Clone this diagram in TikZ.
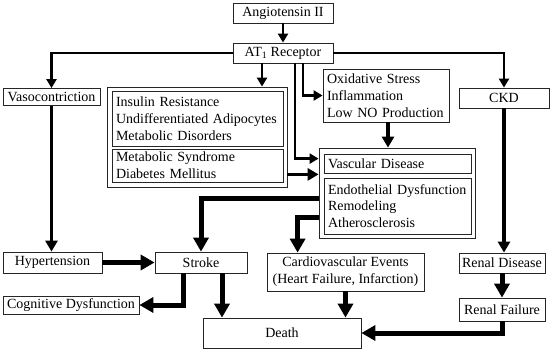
\documentclass[tikz,border=0pt]{standalone}
\usepackage{fontspec}
\setmainfont{Liberation Serif}
\newfontfamily\diagfont{Liberation Serif}
\usetikzlibrary{arrows.meta, calc}

\begin{document}
\begin{tikzpicture}[x=1pt, y=-1pt,
  box/.style={draw=black!85, line width=0.8pt, fill=white, inner sep=0pt,
              font=\diagfont\fontsize{14}{16.8}\selectfont, align=center},
  listbox/.style={box, align=left, inner xsep=4pt},
  frame/.style={draw=black!85, line width=0.8pt, fill=white},
  wh/.style 2 args={minimum width=#1pt, minimum height=#2pt},
  thinarrow/.style={line width=2.3pt, -{Triangle[length=9pt, width=10pt]}},
  midarrow/.style={line width=3.6pt, -{Triangle[length=11pt, width=12pt]}},
  thickarrow/.style={line width=5pt, -{Triangle[length=14pt, width=15pt]}}
]
  \useasboundingbox (0,0) rectangle (552,350);

  \node[box, wh={100}{20}] (angio) at (283,13)   {Angiotensin II};
  \node[box, wh={100}{20}] (at1)   at (283,53)   {AT\textsubscript{1} Receptor};
  \node[box, wh={97}{17}]  (vaso)  at (51.5,97)  {Vasocontriction};
  \node[box, wh={90}{20}]  (ckd)   at (504,98)   {CKD};

  \node[frame, wh={180}{100}] (metab) at (197,137) {};
  \node[listbox, wh={171}{55}, text width=163pt] (ins) at (197.5,118.5)
    {Insulin Resistance\\Undifferentiated Adipocytes\\Metabolic Disorders};
  \node[listbox, wh={171}{33}, text width=163pt] (msyn) at (197.5,165.5)
    {Metabolic Syndrome\\Diabetes Mellitus};

  \node[listbox, wh={126}{53}, text width=118pt, inner xsep=4pt] (oxid) at (386,95.5)
    {Oxidative Stress\\Inflammation\\Low NO Production};

  \node[frame, wh={156}{90}] (vasc) at (397,193) {};
  \node[listbox, wh={147}{19}, text width=139pt] (vasdis) at (397.5,163.5)
    {Vascular Disease};
  \node[listbox, wh={147}{56}, text width=139pt] (endo) at (397.5,206)
    {Endothelial Dysfunction\\Remodeling\\Atherosclerosis};

  \node[box, wh={99}{21}]  (hyper)  at (52.5,262.5) {Hypertension};
  \node[box, wh={92}{21}]  (stroke) at (201,262.5)  {Stroke};
  \node[box, wh={157}{38}] (cardio) at (345.5,272)
    {Cardiovascular Events\\(Heart Failure, Infarction)};
  \node[box, wh={86}{20}]  (renald) at (502,263)    {Renal Disease};
  \node[box, wh={136}{18}] (cog)    at (71,305)     {Cognitive Dysfunction};
  \node[box, wh={158}{30}] (death)  at (282,333)    {Death};
  \node[box, wh={86}{23}]  (renalf) at (502,309.5)  {Renal Failure};

  \draw[thinarrow] (angio) -- (at1);
  \draw[thinarrow] (at1.west) -| (vaso.north);
  \draw[thinarrow] (at1.east) -| (ckd.north);
  \draw[thinarrow] ([xshift=-21pt]at1.south) -- ([xshift=-21pt]at1.south |- metab.north);
  \draw[thinarrow] ([xshift=20pt]at1.south) |- (oxid.west);
  \draw[thinarrow] ([xshift=12pt]at1.south) |- ([yshift=-11pt]vasc.north west);

  \draw[midarrow] ([yshift=13pt]metab.south east) -- ([yshift=13pt]metab.south east -| vasc.west);
  \draw[midarrow] ([xshift=2pt]oxid.south) -- ([xshift=2pt]oxid.south |- vasc.north);
  \draw[midarrow] (vaso.south) -- (vaso.south |- hyper.north);
  \draw[midarrow] (ckd.south) -- (ckd.south |- renald.north);

  \draw[thickarrow] (hyper) -- (stroke);
  \draw[thickarrow] ([yshift=-51pt]vasc.north west) -| (stroke.north);
  \draw[thickarrow] ([yshift=-70pt]vasc.north west) -| ([xshift=31pt]cardio.north west);
  \draw[thickarrow] ([xshift=-18pt]stroke.south) |- (cog.east);
  \draw[thickarrow] ([xshift=21pt]stroke.south) -- ([xshift=21pt]stroke.south |- death.north);
  \draw[thickarrow] (cardio.south) -- (cardio.south |- death.north);
  \draw[thickarrow] (renald) -- (renalf);
  \draw[thickarrow] (renalf.south) |- (death.east);
\end{tikzpicture}
\end{document}
